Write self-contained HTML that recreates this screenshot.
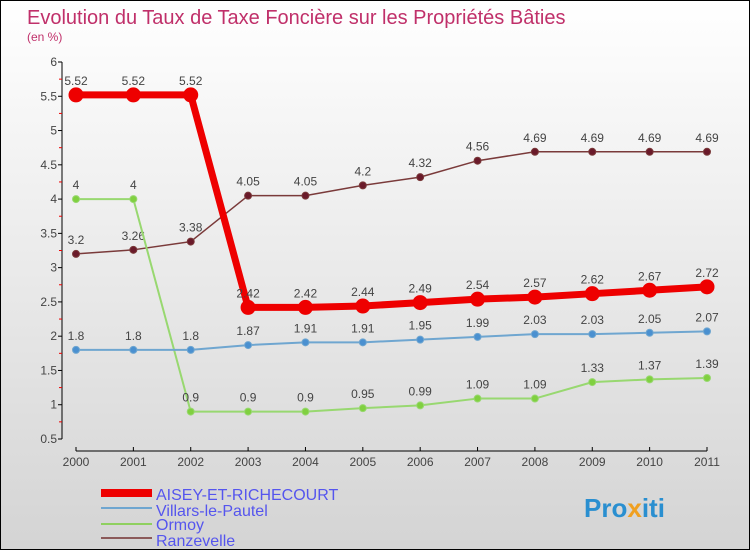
<!DOCTYPE html>
<html><head><meta charset="utf-8"><style>
body{margin:0}
#c{width:750px;height:550px;box-sizing:border-box;border:1px solid #000;background:linear-gradient(#fff,#d4d4d4);position:relative;font-family:"Liberation Sans",sans-serif}
</style></head><body>
<div id="c">
<svg id="s" width="748" height="548" style="position:absolute;left:0;top:0">
<text x="26" y="23" font-size="20" fill="#c0306a">Evolution du Taux de Taxe Foncière sur les Propriétés Bâties</text>
<text x="26" y="40" font-size="12" fill="#c0306a">(en %)</text>
<g id="axes"></g><g id="series"></g>
<g>
<rect x="100" y="488" width="51" height="8" fill="#e00"/>
<text x="155" y="499" font-size="16" fill="#5555ee">AISEY-ET-RICHECOURT</text>
<line x1="100" x2="151" y1="507" y2="507" stroke="#6fa6d0" stroke-width="2"/>
<text x="155" y="515" font-size="16" fill="#5555ee">Villars-le-Pautel</text>
<line x1="100" x2="151" y1="523" y2="523" stroke="#8fd060" stroke-width="2"/>
<text x="155" y="529" font-size="16" fill="#5555ee">Ormoy</text>
<line x1="100" x2="151" y1="537" y2="537" stroke="#8b5a5a" stroke-width="2"/>
<text x="155" y="545" font-size="16" fill="#5555ee">Ranzevelle</text>
</g>
<text x="583" y="516" font-size="26" font-weight="bold" fill="#2a8fd0">Pro<tspan fill="#f0a020">x</tspan>iti</text>
</svg>
</div>
<script>
const years=[2000,2001,2002,2003,2004,2005,2006,2007,2008,2009,2010,2011];
const yTicks=[0.5,1,1.5,2,2.5,3,3.5,4,4.5,5,5.5,6];
const aisey=[5.52,5.52,5.52,2.42,2.42,2.44,2.49,2.54,2.57,2.62,2.67,2.72];
const villars=[1.8,1.8,1.8,1.87,1.91,1.91,1.95,1.99,2.03,2.03,2.05,2.07];
const ormoy=[4,4,0.9,0.9,0.9,0.95,0.99,1.09,1.09,1.33,1.37,1.39];
const ranz=[3.2,3.26,3.38,4.05,4.05,4.2,4.32,4.56,4.69,4.69,4.69,4.69];
const NS="http://www.w3.org/2000/svg";
const X=i=>75+i*(631/11);
const Y=v=>61+(6-v)*(377/5.5);
function mk(t,a,p){const e=document.createElementNS(NS,t);for(const k in a)e.setAttribute(k,a[k]);p.appendChild(e);return e;}
const ax=document.getElementById('axes');
let l=mk('line',{x1:61,x2:61,y1:Y(6),y2:Y(0.5),stroke:'#000'},ax);


l=mk('line',{x1:75,x2:706,y1:450,y2:450,stroke:'#000'},ax);


yTicks.forEach(v=>{
 let t=mk('line',{x1:57,x2:61,y1:Y(v),y2:Y(v),stroke:'#000'},ax);
 
 
 if(v<6){let m=mk('line',{x1:58,x2:61,y1:Y(v+0.25),y2:Y(v+0.25),stroke:'#e00'},ax);
 
 }
 let tx=mk('text',{x:56,y:Y(v)+4,'font-size':12,'text-anchor':'end',fill:'#444'},ax);tx.textContent=v;
 
 
});
years.forEach((y,i)=>{
 let t=mk('line',{x1:X(i),x2:X(i),y1:446,y2:450,stroke:'#000'},ax);
 
 
 let tx=mk('text',{x:X(i),y:465,'font-size':12,'text-anchor':'middle',fill:'#444'},ax);tx.textContent=y;
 
 
});
const sg=document.getElementById('series');
function series(d,name,col,fill,w,r){
 const g=mk('g',{},sg);
 
 
 const p=mk('polyline',{points:d.map((v,i)=>X(i)+','+Y(v)).join(' '),fill:'none',stroke:col,'stroke-width':w,'stroke-linejoin':'round'},g);
 
 
 d.forEach((v,i)=>{
  const c=mk('circle',{cx:X(i),cy:Y(v),r:r,fill:fill,stroke:col,'stroke-width':1},g);
  
  
  const t=mk('text',{x:X(i),y:Y(v)-10,'font-size':12,'text-anchor':'middle',fill:'#444'},g);t.textContent=v;
  
  
 });
}
series(ranz,'ranzevelle','#7a3a3a','#6a1a2a',1.5,3.5);
series(ormoy,'ormoy','#98d870','#80d040',2,3.5);
series(villars,'villars','#6fa6d0','#4a90d0',2,3.5);
series(aisey,'aisey','#e00','#e00',7,7);
</script>
</body></html>
